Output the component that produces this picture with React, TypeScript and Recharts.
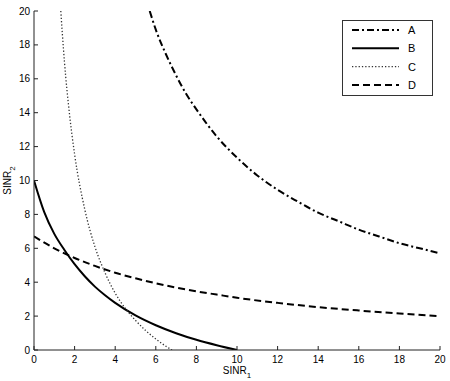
import { Label, Legend, Line, LineChart, XAxis, YAxis } from "recharts";

const TICKS = [0, 2, 4, 6, 8, 10, 12, 14, 16, 18, 20];

// A: dash-dot
const A_X = [5.7, 6, 6.5, 7, 7.5, 8, 9, 10, 11, 12, 13, 14, 15, 16, 17, 18, 19, 20];
const A_Y = [20, 18.9, 17.45, 16.2, 15.1, 14.2, 12.6, 11.35, 10.3, 9.45, 8.75, 8.1, 7.6, 7.1, 6.7, 6.3, 6.0, 5.7];

// B: solid
const B_X = [0, 0.5, 1, 1.5, 2, 2.5, 3, 3.5, 4, 5, 6, 7, 8, 9, 10];
const B_Y = [10, 8.15, 6.85, 5.9, 5.06, 4.35, 3.74, 3.23, 2.78, 2.04, 1.46, 0.99, 0.6, 0.28, 0];

// C: dotted
const C_X = [1.32, 1.4, 1.5, 1.75, 2, 2.5, 3, 3.5, 4, 4.5, 5, 5.5, 6, 6.5, 6.8];
const C_Y = [20, 18.6, 17, 13.9, 11.55, 8.3, 6.1, 4.55, 3.35, 2.45, 1.75, 1.15, 0.65, 0.22, 0];

// D: dashed
const D_X = [0, 1, 2, 3, 4, 5, 6, 7, 8, 9, 10, 12, 14, 16, 18, 20];
const D_Y = [6.7, 6.0, 5.43, 4.96, 4.56, 4.23, 3.94, 3.68, 3.46, 3.27, 3.08, 2.78, 2.53, 2.33, 2.15, 2.0];

const zip = (xs: number[], ys: number[]) => xs.map((x, i) => ({ x, y: ys[i] }));

const SERIES = [
  { name: "A", data: zip(A_X, A_Y), width: 2, dash: "7 3 2 3", color: "#000" },
  { name: "B", data: zip(B_X, B_Y), width: 2, dash: undefined, color: "#000" },
  { name: "C", data: zip(C_X, C_Y), width: 1.3, dash: "1.3 2", color: "#333" },
  { name: "D", data: zip(D_X, D_Y), width: 2, dash: "7 4", color: "#000" },
];

const FONT = "'Liberation Sans', Arial, sans-serif";
const AXIS = "#222";

function LegendBox() {
  return (
    <svg width={92} height={77} style={{ display: "block" }}>
      <rect x={0.5} y={0.5} width={90} height={75} fill="#fff" stroke="#333" />
      {SERIES.map((s, i) => {
        const y = 10 + i * 18.3;
        return (
          <g key={s.name}>
            <line x1={10} x2={57} y1={y} y2={y} stroke={s.color} strokeWidth={s.width} strokeDasharray={s.dash} />
            <text x={66} y={y + 4} fontSize={11} fontFamily={FONT} fill="#000">
              {s.name}
            </text>
          </g>
        );
      })}
    </svg>
  );
}

export default function App() {
  return (
    <div style={{ position: "absolute", left: 0, top: 0, background: "#fff" }}>
      <LineChart
        width={450}
        height={381}
        margin={{ top: 11, right: 10, bottom: 0, left: 0 }}
        style={{ fontFamily: FONT }}
      >
        <XAxis
          dataKey="x"
          type="number"
          domain={[0, 20]}
          ticks={TICKS}
          allowDataOverflow
          height={31}
          stroke={AXIS}
          tickSize={-4}
          tickMargin={10}
          tick={{ fontSize: 10, fill: "#000" }}
        >
          <Label
            content={({ viewBox }: any) => {
              const cx = viewBox.x + viewBox.width / 2;
              return (
                <text x={cx} y={374} textAnchor="middle" fontSize={10} fontFamily={FONT} fill="#000">
                  SINR
                  <tspan fontSize={8} dy={4}>1</tspan>
                </text>
              );
            }}
          />
        </XAxis>
        <XAxis
          xAxisId="top"
          orientation="top"
          type="number"
          domain={[0, 20]}
          ticks={TICKS}
          allowDataOverflow
          height={0}
          stroke={AXIS}
          tickSize={-4}
          tick={false}
        />
        <YAxis
          dataKey="y"
          type="number"
          domain={[0, 20]}
          ticks={TICKS}
          allowDataOverflow
          width={34}
          stroke={AXIS}
          tickSize={-4}
          tickMargin={8}
          tick={{ fontSize: 10, fill: "#000" }}
        >
          <Label
            content={({ viewBox }: any) => {
              const cy = viewBox.y + viewBox.height / 2;
              return (
                <text
                  x={11}
                  y={cy}
                  textAnchor="middle"
                  fontSize={10}
                  fontFamily={FONT}
                  fill="#000"
                  transform={`rotate(-90, 11, ${cy})`}
                >
                  SINR
                  <tspan fontSize={8} dy={4}>2</tspan>
                </text>
              );
            }}
          />
        </YAxis>
        <YAxis
          yAxisId="right"
          orientation="right"
          type="number"
          domain={[0, 20]}
          ticks={TICKS}
          allowDataOverflow
          width={0}
          stroke={AXIS}
          tickSize={-4}
          tick={false}
        />
        <Legend
          layout="vertical"
          align="center"
          verticalAlign="middle"
          wrapperStyle={{ position: "absolute", left: 342, top: 20, width: 92, height: 77 }}
          content={() => <LegendBox />}
        />
        {SERIES.map((s) => (
          <Line
            key={s.name}
            name={s.name}
            data={s.data}
            dataKey="y"
            type="monotone"
            stroke={s.color}
            strokeWidth={s.width}
            strokeDasharray={s.dash}
            dot={false}
            activeDot={false}
            isAnimationActive={false}
          />
        ))}
      </LineChart>
    </div>
  );
}
